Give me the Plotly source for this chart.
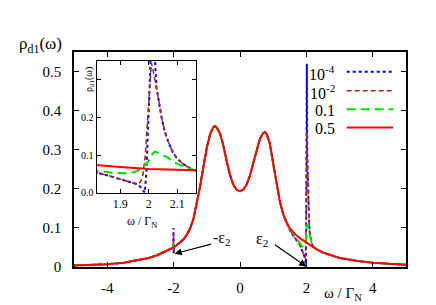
import plotly.graph_objects as go

# ---------------- data ----------------
SERIES_NAMES = ["10<sup>-4</sup>", "10<sup>-2</sup>", "0.1", "0.5"]

# common smooth background (the 0.5 curve)
W_BG = [-5.0, -4.5, -4.0, -3.5, -3.0, -2.75, -2.5, -2.25, -2.1, -2.0, -1.9, -1.8, -1.7, -1.6,
        -1.5, -1.4, -1.3, -1.2, -1.1, -1.0, -0.9, -0.8, -0.75, -0.7, -0.6, -0.5, -0.4, -0.3,
        -0.2, -0.1, 0.0, 0.1, 0.2, 0.3, 0.4, 0.5, 0.6, 0.7, 0.75, 0.8, 0.9, 1.0, 1.1, 1.2,
        1.3, 1.4, 1.5, 1.6, 1.7, 1.8, 1.9, 2.0, 2.1, 2.2, 2.3, 2.5, 2.75, 3.0, 3.5, 4.0, 4.5, 5.0]
RHO_BG = [0.004, 0.005, 0.007, 0.011, 0.018, 0.023, 0.030, 0.039, 0.045, 0.050, 0.056, 0.063, 0.071, 0.083,
          0.099, 0.124, 0.162, 0.207, 0.258, 0.305, 0.340, 0.358, 0.360, 0.357, 0.341, 0.310, 0.270, 0.235,
          0.210, 0.197, 0.194, 0.198, 0.211, 0.234, 0.266, 0.300, 0.328, 0.343, 0.345, 0.341, 0.315, 0.265,
          0.212, 0.168, 0.135, 0.114, 0.099, 0.089, 0.081, 0.074, 0.068, 0.063, 0.057, 0.051, 0.046, 0.037,
          0.029, 0.023, 0.016, 0.011, 0.008, 0.006]

# feature near -eps2
W_M2 = [-2.05, -2.02, -2.008, -2.003, -2.0, -1.997, -1.992, -1.98, -1.95]
RHO_M2_1E4 = [0.047, 0.049, 0.052, 0.100, 0.060, 0.035, 0.045, 0.051, 0.053]
RHO_M2_1E2 = [0.047, 0.049, 0.052, 0.090, 0.060, 0.040, 0.047, 0.051, 0.053]
RHO_M2_01 = [0.047, 0.050, 0.053, 0.056, 0.058, 0.056, 0.054, 0.053, 0.053]

# feature near +eps2
W_P2_1E4 = [1.5, 1.6, 1.7, 1.8, 1.85, 1.9, 1.94, 1.962, 1.975, 1.986, 1.992, 1.998, 2.004, 2.009,
            2.013, 2.017, 2.022, 2.027, 2.035, 2.045, 2.056, 2.07, 2.085, 2.1, 2.12, 2.14, 2.166, 2.2, 2.25]
RHO_P2_1E4 = [0.095, 0.081, 0.069, 0.057, 0.047, 0.036, 0.027, 0.022, 0.011, 0.0, 0.06, 0.16, 0.30, 0.45,
              0.52, 0.42, 0.33, 0.28, 0.245, 0.20, 0.163, 0.132, 0.107, 0.09, 0.077, 0.067, 0.058, 0.052, 0.048]
W_P2_1E2 = [1.5, 1.6, 1.7, 1.8, 1.85, 1.9, 1.94, 1.962, 1.972, 1.98, 1.988, 1.996, 2.004, 2.009,
            2.014, 2.02, 2.027, 2.035, 2.045, 2.056, 2.07, 2.085, 2.1, 2.12, 2.14, 2.166, 2.2, 2.25]
RHO_P2_1E2 = [0.095, 0.081, 0.069, 0.057, 0.047, 0.036, 0.027, 0.022, 0.030, 0.050, 0.10, 0.20, 0.30, 0.345,
              0.33, 0.31, 0.28, 0.245, 0.20, 0.163, 0.132, 0.107, 0.09, 0.077, 0.067, 0.058, 0.052, 0.048]
W_P2_01 = [1.5, 1.6, 1.7, 1.76, 1.82, 1.87, 1.92, 1.95, 1.98, 2.0, 2.01, 2.021, 2.035, 2.05, 2.07,
           2.085, 2.1, 2.13, 2.166, 2.2, 2.25]
RHO_P2_01 = [0.098, 0.086, 0.073, 0.065, 0.058, 0.053, 0.052, 0.055, 0.066, 0.085, 0.10, 0.109, 0.106,
             0.100, 0.092, 0.082, 0.077, 0.067, 0.058, 0.053, 0.049]

X_TICKS = [-4, -2, 0, 2, 4]
X_TICKTEXT = ["-4", "-2", "0", "2", "4"]
Y_TICKS = [0, 0.1, 0.2, 0.3, 0.4, 0.5]
Y_TICKTEXT = ["0", "0.1", "0.2", "0.3", "0.4", "0.5"]
IX_TICKS = [1.9, 2.0, 2.1]
IX_TICKTEXT = ["1.9", "2", "2.1"]
IY_TICKS = [0, 0.1, 0.2, 0.3]
IY_TICKTEXT = ["0.0", "0.1", "0.2", " "]


def compose(w_m2, r_m2, w_p2, r_p2):
    xs, ys = [], []
    for w, r in zip(W_BG, RHO_BG):
        if w <= -2.1:
            xs.append(w); ys.append(r)
    xs += w_m2; ys += r_m2
    for w, r in zip(W_BG, RHO_BG):
        if -1.9 <= w <= 1.4:
            xs.append(w); ys.append(r)
    xs += w_p2; ys += r_p2
    for w, r in zip(W_BG, RHO_BG):
        if w >= 2.3:
            xs.append(w); ys.append(r)
    return xs, ys


series = [
    compose(W_M2, RHO_M2_1E4, W_P2_1E4, RHO_P2_1E4),
    compose(W_M2, RHO_M2_1E2, W_P2_1E2, RHO_P2_1E2),
    compose(W_M2, RHO_M2_01, W_P2_01, RHO_P2_01),
    (W_BG, RHO_BG),
]
COLORS = ["#0000ff", "#a52a2a", "#00e000", "#ff0000"]
DASHES = ["dot", "5px,3px", "9px,5px", "solid"]
WIDTHS = [2, 1.6, 2, 2]

# ---------------- layout geometry ----------------
W, H = 436, 305
L, R, T, B = 74, 30, 52, 38
PW, PH = W - L - R, H - T - B
def px(x): return (x - L) / PW
def py(y): return (H - B - y) / PH

FONT = "Liberation Serif"
def f(size): return dict(family=FONT, size=size)

fig = go.Figure()
for (xs, ys), c, d, lw, nm in zip(series, COLORS, DASHES, WIDTHS, SERIES_NAMES):
    fig.add_trace(go.Scatter(x=xs, y=ys, mode="lines", name=nm, showlegend=False,
                             line=dict(color=c, dash=d, width=lw), xaxis="x", yaxis="y"))
for (xs, ys), c, d, lw, nm in zip(series, COLORS, DASHES, WIDTHS, SERIES_NAMES):
    fig.add_trace(go.Scatter(x=xs, y=ys, mode="lines", name=nm, showlegend=False,
                             line=dict(color=c, dash=d, width=lw), xaxis="x2", yaxis="y2"))

axis_common = dict(showgrid=False, zeroline=False, showline=True, linecolor="black",
                   mirror="ticks", ticks="inside", tickcolor="black")

fig.update_layout(
    template="none",
    width=W, height=H, margin=dict(l=L, r=R, t=T, b=B, pad=0),
    paper_bgcolor="white", plot_bgcolor="white",
    font=dict(family=FONT, size=15, color="black"),
    xaxis=dict(domain=[0, 1], range=[-5, 5], tickvals=X_TICKS, ticktext=X_TICKTEXT,
               ticklen=5, linewidth=1.5, tickfont=f(15), ticklabelstandoff=6,
               anchor="y", **axis_common),
    yaxis=dict(domain=[0, 1], range=[0, 0.55], tickvals=Y_TICKS, ticktext=Y_TICKTEXT,
               ticklen=5, linewidth=1.5, tickfont=f(15), ticklabelstandoff=8,
               anchor="x", **axis_common),
    xaxis2=dict(domain=[px(96.7), px(196)], range=[1.817, 2.166], tickvals=IX_TICKS,
                ticktext=IX_TICKTEXT, ticklen=4, linewidth=1.2, tickfont=f(12),
                anchor="y2", **axis_common),
    yaxis2=dict(domain=[py(192.7), py(61)], range=[0, 0.35], tickvals=IY_TICKS,
                ticktext=IY_TICKTEXT, ticklen=4, linewidth=1.2, tickfont=f(10),
                anchor="x2", **axis_common),
)

# custom legend (text left, line sample right)
ROW_Y = [71.7, 90.7, 109.3, 127.5]
shapes = []
annotations = []
for nm, c, d, lw, ry in zip(SERIES_NAMES, COLORS, DASHES, WIDTHS, ROW_Y):
    shapes.append(dict(type="line", xref="paper", yref="paper", x0=px(346.7), x1=px(393.3),
                       y0=py(ry), y1=py(ry), line=dict(color=c, dash=d, width=lw)))
    annotations.append(dict(xref="paper", yref="paper", x=px(337), y=py(ry + 1), text=nm,
                            showarrow=False, xanchor="right", yanchor="middle", font=f(16)))

# axis titles
annotations.append(dict(xref="paper", yref="paper", x=px(64), y=py(45), text="ρ<sub>d1</sub>(ω)",
                        showarrow=False, xanchor="right", yanchor="middle", font=f(17)))
annotations.append(dict(xref="paper", yref="paper", x=px(343), y=py(294), text="ω / Γ<sub>N</sub>",
                        showarrow=False, xanchor="center", yanchor="middle", font=f(15)))
annotations.append(dict(xref="paper", yref="paper", x=px(89), y=py(80), text="ρ<sub>d1</sub>(ω)",
                        showarrow=False, textangle=-90, xanchor="center", yanchor="middle",
                        font=f(10)))
annotations.append(dict(xref="paper", yref="paper", x=px(142), y=py(222), text="ω / Γ<sub>N</sub>",
                        showarrow=False, xanchor="center", yanchor="middle", font=f(12)))

# arrows with labels
annotations.append(dict(xref="x", yref="y", x=-1.97, y=0.034, ax=38, ay=-10, axref="pixel",
                        ayref="pixel", text="", showarrow=True, arrowhead=2, arrowsize=1.2,
                        arrowwidth=1.2, arrowcolor="black"))
annotations.append(dict(xref="paper", yref="paper", x=px(222), y=py(238), text="-ε<sub>2</sub>",
                        showarrow=False, xanchor="center", yanchor="middle", font=f(16)))
annotations.append(dict(xref="x", yref="y", x=2.0, y=0.001, ax=-33, ay=-23, axref="pixel",
                        ayref="pixel", text="", showarrow=True, arrowhead=2, arrowsize=1.2,
                        arrowwidth=1.2, arrowcolor="black"))
annotations.append(dict(xref="paper", yref="paper", x=px(262), y=py(239), text="ε<sub>2</sub>",
                        showarrow=False, xanchor="center", yanchor="middle", font=f(16)))

fig.update_layout(shapes=shapes, annotations=annotations)
fig.write_html("out.html", config={"displayModeBar": False},
               post_script="document.body.style.margin='0';document.body.style.padding='0';")
